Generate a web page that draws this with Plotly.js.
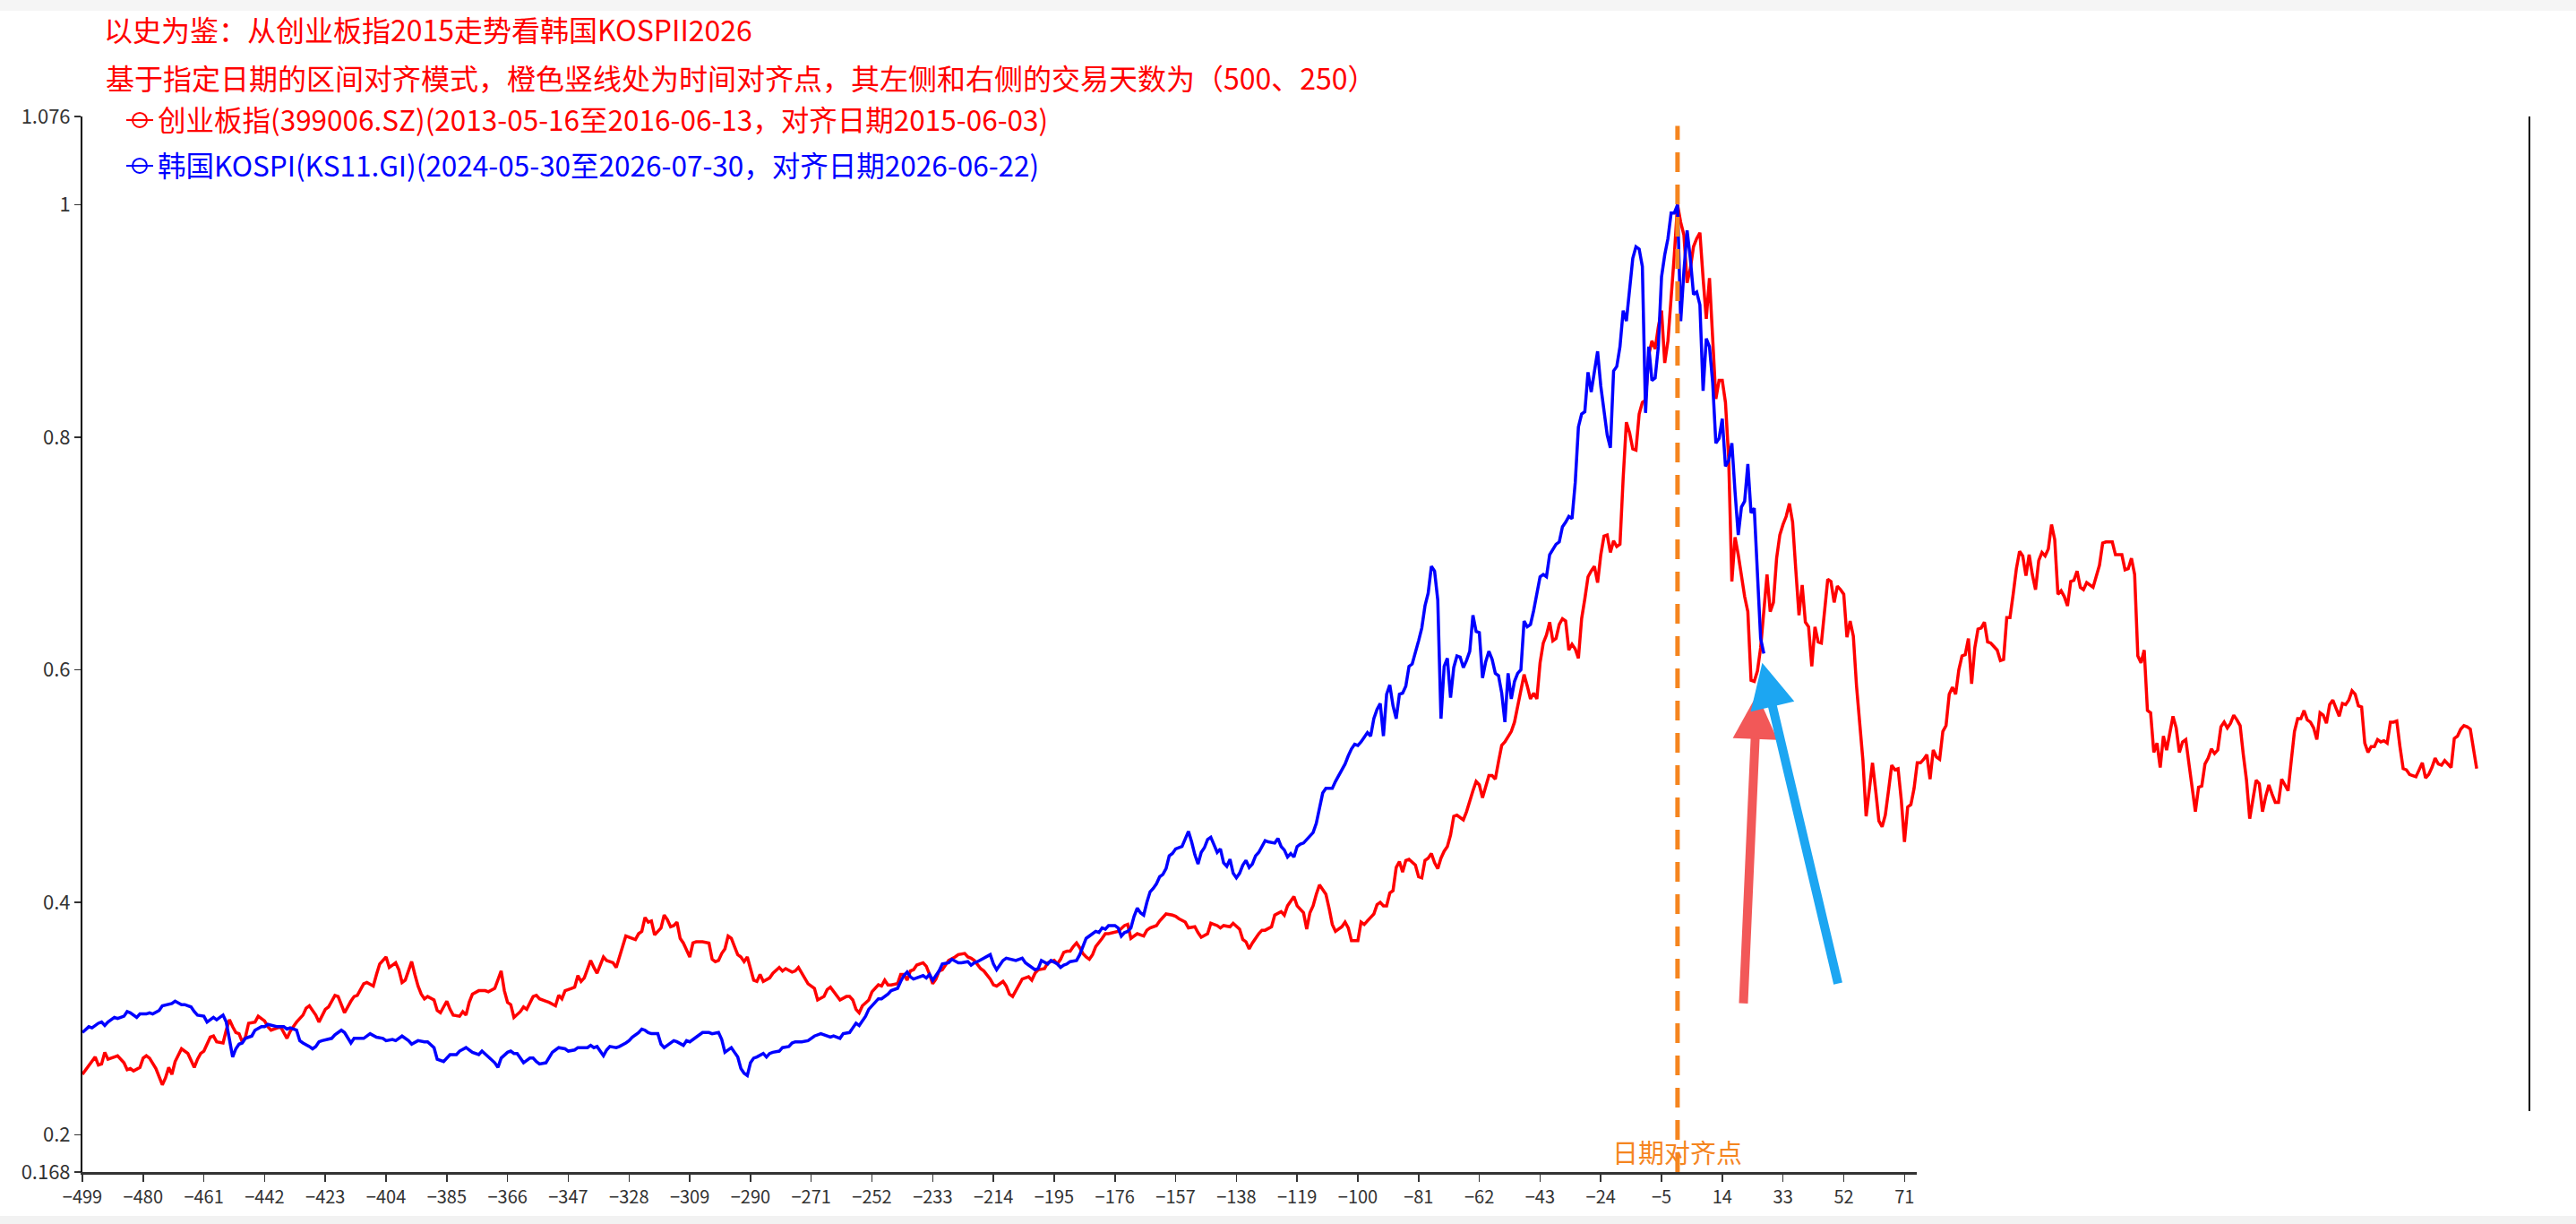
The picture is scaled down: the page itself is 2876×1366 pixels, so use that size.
<!DOCTYPE html>
<html>
<head>
<meta charset="utf-8">
<script src="https://cdn.plot.ly/plotly-3.0.1.min.js"></script>
<style>
html,body{margin:0;padding:0;background:#fff;}
#chart{width:2876px;height:1366px;}
</style>
</head>
<body>
<div id="chart"></div>
<script>
// ---------- data (day offset relative to the alignment date, normalised index) ----------
const titleText = '以史为鉴：从创业板指2015走势看韩国KOSPII2026';
const subtitleText = '基于指定日期的区间对齐模式，橙色竖线处为时间对齐点，其左侧和右侧的交易天数为（500、250）';
const redName = '创业板指(399006.SZ)(2013-05-16至2016-06-13，对齐日期2015-06-03)';
const blueName = '韩国KOSPI(KS11.GI)(2024-05-30至2026-07-30，对齐日期2026-06-22)';
const alignLabel = '日期对齐点';

const redDays = [
-499,-497,-495,-494,-493,-492,-491,-489,-488,-486,
-485,-484,-483,-481,-480,-479,-478,-476,-475,-474,
-473,-472,-471,-470,-468,-466,-464,-463,-462,-461,
-459,-458,-457,-455,-454,-453,-452,-451,-450,-449,
-448,-447,-445,-444,-442,-441,-440,-438,-437,-435,
-434,-433,-432,-430,-429,-428,-427,-426,-425,-424,
-423,-422,-420,-419,-418,-417,-415,-414,-413,-411,
-410,-408,-407,-406,-404,-403,-402,-401,-400,-399,
-398,-397,-396,-395,-394,-393,-392,-391,-389,-388,
-387,-386,-385,-384,-383,-381,-380,-379,-378,-377,
-375,-373,-372,-370,-369,-368,-367,-366,-365,-364,
-362,-361,-360,-359,-358,-357,-356,-354,-353,-351,
-350,-349,-348,-346,-345,-344,-343,-342,-340,-339,
-338,-337,-336,-335,-333,-332,-331,-330,-329,-327,
-326,-325,-324,-323,-322,-321,-320,-318,-317,-316,
-315,-314,-313,-312,-311,-309,-308,-307,-305,-303,
-302,-301,-300,-299,-298,-297,-296,-295,-294,-293,
-292,-291,-290,-289,-288,-287,-286,-284,-283,-281,
-280,-279,-277,-276,-275,-273,-272,-270,-269,-267,
-266,-265,-264,-262,-260,-259,-258,-257,-256,-255,
-253,-252,-250,-249,-248,-247,-246,-244,-243,-242,
-241,-240,-239,-238,-236,-235,-234,-233,-232,-231,
-230,-229,-228,-226,-225,-223,-222,-221,-220,-218,
-217,-215,-214,-213,-211,-210,-209,-208,-207,-206,
-205,-203,-202,-201,-200,-198,-197,-195,-194,-193,
-192,-191,-190,-189,-188,-187,-186,-185,-184,-183,
-182,-180,-179,-178,-176,-175,-173,-172,-171,-170,
-169,-167,-166,-165,-163,-162,-160,-158,-157,-156,
-154,-153,-151,-150,-149,-147,-146,-144,-143,-142,
-140,-139,-137,-136,-135,-134,-133,-131,-130,-129,
-127,-126,-124,-123,-122,-120,-119,-117,-116,-115,
-114,-113,-112,-111,-110,-109,-108,-107,-105,-104,
-103,-102,-101,-100,-99,-98,-96,-95,-94,-93,
-92,-91,-90,-89,-88,-87,-86,-85,-84,-82,
-81,-80,-79,-78,-77,-76,-75,-74,-73,-72,
-71,-70,-69,-67,-66,-65,-64,-63,-62,-61,
-60,-59,-58,-57,-56,-55,-54,-53,-52,-51,
-50,-49,-48,-47,-46,-45,-44,-43,-42,-41,
-40,-39,-38,-37,-36,-35,-34,-33,-32,-31,
-30,-29,-28,-27,-26,-25,-24,-23,-22,-21,
-20,-19,-18,-17,-16,-15,-14,-13,-12,-11,
-10,-9,-8,-7,-6,-5,-4,-3,-2,-1,
0,1,2,3,4,5,6,7,8,9,
10,11,12,13,14,15,16,17,18,19,
20,21,22,23,24,25,26,27,28,29,
30,31,32,33,34,35,36,37,38,39,
40,41,42,43,44,45,46,47,48,49,
50,51,52,53,54,55,56,58,59,60,
61,62,63,64,65,66,67,68,69,70,
71,72,73,74,75,76,77,78,79,80,
81,82,83,84,85,86,87,88,89,90,
91,92,93,94,95,96,97,98,100,101,
102,103,104,105,106,107,108,109,110,111,
112,113,114,115,116,117,118,119,120,121,
122,123,124,125,126,127,128,130,131,132,
133,134,136,137,139,140,141,142,143,144,
145,146,147,148,149,150,151,152,153,154,
155,156,157,158,159,160,161,162,163,164,
165,166,167,168,169,170,171,172,173,174,
175,176,177,178,179,180,181,182,183,184,
185,186,187,188,189,190,191,192,193,194,
195,196,197,198,199,200,201,202,203,204,
205,206,207,208,209,210,211,212,213,214,
215,216,217,218,219,220,221,222,223,224,
225,226,227,228,229,230,231,232,233,234,
235,236,237,238,239,240,241,242,243,244,
245,246,247,248,250
];
const redValues = [
.252,.260,.267,.260,.261,.271,.265,.267,.268,.262,
.256,.257,.255,.258,.266,.268,.266,.257,.249,.243,
.249,.258,.252,.263,.274,.270,.258,.265,.270,.272,
.284,.285,.280,.279,.290,.299,.293,.288,.287,.280,
.284,.296,.297,.302,.298,.293,.290,.292,.293,.283,
.289,.293,.297,.303,.309,.311,.307,.303,.297,.303,
.308,.310,.320,.319,.311,.305,.315,.319,.320,.330,
.331,.328,.338,.347,.353,.344,.346,.348,.342,.331,
.333,.342,.349,.338,.328,.321,.317,.319,.316,.307,
.305,.310,.315,.308,.303,.302,.306,.303,.314,.321,
.324,.324,.323,.326,.333,.341,.324,.314,.312,.301,
.306,.310,.308,.314,.319,.320,.317,.315,.314,.311,
.320,.317,.324,.326,.327,.337,.332,.335,.350,.344,
.339,.346,.353,.350,.348,.344,.352,.362,.371,.369,
.368,.373,.375,.387,.383,.384,.372,.378,.389,.385,
.379,.380,.383,.369,.365,.353,.365,.366,.366,.365,
.351,.349,.350,.356,.360,.371,.369,.362,.355,.353,
.349,.353,.344,.333,.332,.338,.332,.335,.339,.344,
.341,.343,.340,.341,.344,.335,.330,.326,.316,.319,
.325,.327,.323,.316,.319,.319,.316,.308,.305,.311,
.316,.323,.329,.328,.333,.329,.329,.330,.338,.338,
.333,.341,.342,.346,.348,.345,.338,.330,.334,.341,
.342,.346,.350,.353,.355,.356,.353,.352,.350,.343,
.341,.334,.329,.328,.332,.328,.321,.319,.324,.330,
.334,.336,.333,.339,.342,.343,.348,.350,.347,.351,
.357,.358,.358,.362,.365,.361,.356,.353,.351,.355,
.362,.369,.373,.373,.374,.375,.380,.381,.369,.371,
.373,.371,.376,.378,.380,.384,.390,.389,.388,.386,
.383,.378,.379,.374,.370,.373,.382,.380,.378,.380,
.379,.382,.377,.368,.366,.360,.365,.373,.376,.376,
.379,.389,.392,.389,.397,.405,.397,.391,.377,.391,
.397,.407,.415,.411,.407,.395,.381,.375,.379,.383,
.378,.367,.367,.367,.383,.381,.387,.390,.398,.400,
.397,.397,.408,.410,.430,.435,.426,.436,.437,.432,
.422,.421,.436,.438,.442,.434,.429,.438,.444,.448,
.458,.474,.475,.471,.478,.488,.496,.504,.501,.490,
.499,.509,.509,.506,.521,.535,.538,.543,.547,.555,
.569,.583,.596,.586,.575,.580,.575,.606,.623,.630,
.641,.625,.627,.639,.644,.642,.617,.622,.618,.610,
.644,.661,.680,.685,.689,.675,.699,.715,.716,.701,
.711,.706,.708,.765,.813,.804,.790,.789,.820,.830,
.832,.871,.883,.876,.895,.909,.864,.883,.919,.957,
1.000,.985,.974,.933,.945,.964,.971,.976,.937,.902,
.937,.885,.833,.849,.849,.830,.782,.676,.714,.699,
.681,.663,.650,.591,.590,.599,.619,.650,.682,.650,
.658,.696,.716,.725,.732,.743,.727,.686,.647,.673,
.641,.637,.603,.637,.624,.623,.650,.678,.676,.658,
.672,.669,.665,.628,.642,.629,.586,.522,.474,.496,
.520,.496,.470,.465,.475,.496,.518,.514,.515,.488,
.452,.482,.484,.498,.520,.520,.523,.527,.506,.531,
.525,.523,.547,.552,.579,.585,.579,.600,.612,.613,
.627,.588,.619,.635,.636,.641,.624,.623,.617,.608,
.609,.645,.645,.665,.687,.702,.698,.681,.699,.682,
.669,.694,.701,.698,.704,.725,.712,.665,.668,.663,
.655,.676,.677,.685,.671,.669,.675,.671,.681,.690,
.709,.710,.710,.699,.699,.686,.687,.696,.682,.612,
.606,.617,.565,.563,.529,.537,.516,.543,.531,.545,
.560,.550,.529,.538,.540,.519,.499,.478,.499,.500,
.519,.524,.532,.528,.531,.551,.555,.550,.554,.561,
.557,.552,.527,.505,.472,.488,.505,.502,.478,.491,
.501,.493,.486,.486,.506,.501,.496,.522,.547,.558,
.558,.565,.557,.555,.550,.540,.563,.561,.554,.570,
.574,.567,.560,.571,.570,.574,.582,.579,.569,.568,
.537,.529,.534,.534,.540,.538,.539,.537,.555,.555,
.556,.534,.515,.514,.510,.509,.508,.514,.520,.507,
.510,.516,.524,.519,.518,.522,.519,.516,.541,.543,
.549,.552,.551,.549,.515
];

const blueDays = [
-499,-497,-496,-494,-493,-492,-491,-489,-488,-486,
-485,-484,-482,-481,-479,-478,-477,-475,-474,-472,
-471,-470,-468,-467,-465,-464,-463,-461,-460,-458,
-457,-456,-455,-454,-453,-452,-451,-450,-449,-448,
-446,-445,-443,-442,-441,-439,-438,-436,-435,-434,
-432,-431,-430,-428,-427,-426,-425,-424,-422,-421,
-420,-418,-417,-416,-415,-414,-412,-411,-409,-407,
-405,-404,-402,-401,-399,-397,-396,-394,-392,-391,
-389,-388,-386,-385,-384,-382,-381,-379,-378,-377,
-375,-374,-372,-370,-369,-368,-366,-365,-364,-363,
-362,-361,-359,-358,-357,-356,-354,-353,-352,-351,
-350,-348,-347,-345,-344,-343,-341,-340,-339,-338,
-336,-335,-334,-332,-331,-329,-328,-327,-325,-324,
-323,-322,-321,-319,-318,-317,-315,-314,-313,-311,
-310,-309,-307,-306,-305,-303,-302,-300,-299,-298,
-296,-295,-294,-293,-292,-291,-290,-289,-288,-286,
-285,-284,-283,-281,-280,-278,-277,-276,-274,-272,
-271,-270,-268,-267,-265,-264,-262,-261,-259,-258,
-257,-256,-254,-253,-251,-250,-249,-247,-246,-244,
-243,-242,-241,-240,-239,-237,-236,-235,-234,-233,
-232,-231,-230,-228,-227,-225,-224,-222,-221,-220,
-219,-217,-216,-215,-214,-213,-212,-211,-210,-208,
-207,-206,-205,-204,-202,-201,-200,-199,-197,-196,
-194,-193,-192,-191,-190,-188,-187,-186,-185,-183,
-182,-181,-180,-179,-178,-176,-175,-174,-173,-172,
-171,-170,-169,-168,-167,-166,-165,-164,-163,-162,
-161,-160,-159,-158,-157,-155,-154,-153,-152,-151,
-150,-149,-148,-147,-146,-145,-144,-143,-142,-141,
-140,-139,-138,-137,-136,-135,-134,-133,-132,-131,
-129,-128,-126,-125,-124,-123,-122,-121,-120,-119,
-118,-117,-115,-114,-113,-112,-111,-110,-108,-107,
-106,-105,-104,-103,-102,-101,-100,-99,-98,-97,
-96,-95,-94,-93,-92,-91,-90,-89,-88,-87,
-86,-85,-84,-83,-81,-80,-79,-78,-77,-76,
-75,-74,-73,-72,-71,-70,-69,-68,-67,-66,
-65,-64,-63,-62,-61,-60,-59,-58,-57,-56,
-55,-54,-53,-52,-51,-50,-49,-48,-47,-46,
-45,-44,-43,-42,-41,-40,-39,-38,-37,-36,
-35,-34,-33,-32,-31,-30,-29,-28,-27,-26,
-25,-24,-23,-22,-21,-20,-19,-18,-17,-16,
-14,-13,-12,-11,-10,-9,-8,-7,-6,-5,
-4,-3,-2,-1,0,1,2,3,4,5,
6,7,8,9,10,11,12,13,14,15,
16,17,18,19,20,21,22,23,24,25,
26,27
];
const blueValues = [
.288,.293,.292,.296,.297,.294,.297,.301,.300,.302,
.306,.305,.301,.304,.304,.305,.304,.307,.311,.312,
.313,.315,.312,.312,.310,.306,.303,.302,.297,.301,
.299,.301,.303,.297,.283,.267,.274,.278,.279,.283,
.285,.290,.293,.293,.295,.294,.293,.293,.291,.292,
.290,.281,.279,.276,.274,.276,.280,.281,.282,.283,
.286,.290,.288,.283,.279,.283,.283,.283,.287,.284,
.283,.281,.282,.281,.285,.281,.278,.281,.280,.280,
.275,.265,.263,.266,.269,.269,.272,.275,.273,.271,
.269,.272,.267,.262,.258,.266,.271,.272,.270,.270,
.266,.262,.266,.266,.263,.261,.262,.266,.271,.273,
.275,.274,.272,.273,.275,.275,.275,.277,.275,.276,
.268,.273,.276,.275,.276,.279,.281,.284,.288,.291,
.290,.288,.287,.287,.278,.275,.279,.281,.280,.277,
.281,.280,.284,.286,.288,.288,.287,.288,.282,.271,
.275,.271,.267,.257,.253,.251,.262,.266,.267,.270,
.267,.270,.271,.272,.275,.276,.279,.280,.280,.281,
.283,.285,.287,.286,.284,.285,.283,.287,.288,.292,
.296,.294,.302,.308,.314,.317,.317,.321,.324,.326,
.332,.337,.340,.336,.334,.336,.337,.335,.338,.333,
.337,.341,.347,.348,.351,.348,.348,.349,.346,.348,
.349,.352,.354,.355,.347,.342,.346,.350,.352,.351,
.350,.351,.352,.348,.344,.342,.343,.350,.347,.350,
.347,.344,.346,.347,.349,.350,.355,.362,.369,.373,
.375,.374,.378,.377,.380,.380,.378,.371,.374,.375,
.378,.388,.395,.391,.389,.400,.409,.412,.416,.422,
.424,.429,.440,.442,.446,.448,.454,.461,.452,.441,
.433,.443,.447,.454,.456,.450,.443,.446,.434,.431,
.437,.425,.421,.425,.432,.436,.430,.433,.440,.443,
.453,.452,.451,.455,.448,.445,.439,.442,.439,.448,
.450,.451,.457,.460,.468,.481,.494,.498,.498,.504,
.509,.515,.519,.526,.532,.536,.535,.538,.542,.546,
.543,.558,.566,.571,.543,.579,.587,.569,.558,.579,
.580,.586,.603,.605,.625,.636,.655,.666,.689,.685,
.660,.558,.603,.610,.576,.602,.612,.611,.602,.608,
.616,.647,.633,.632,.593,.607,.616,.609,.597,.595,
.580,.555,.597,.575,.590,.597,.600,.642,.637,.639,
.651,.665,.680,.682,.680,.699,.703,.708,.710,.723,
.727,.732,.730,.761,.809,.820,.822,.856,.839,.856,
.874,.844,.821,.802,.791,.857,.861,.878,.909,.900,
.954,.964,.962,.947,.821,.878,.849,.851,.878,.938,
.957,.971,.993,.993,1.000,.900,.943,.978,.954,.923,
.925,.914,.840,.885,.878,.847,.795,.799,.816,.775,
.780,.795,.753,.716,.740,.745,.777,.735,.739,.681,
.627,.614
];

const xTickVals = [-499,-480,-461,-442,-423,-404,-385,-366,-347,-328,-309,-290,-271,-252,-233,-214,-195,-176,-157,-138,-119,-100,-81,-62,-43,-24,-5,14,33,52,71];
const yTickVals = [0.168,0.2,0.4,0.6,0.8,1,1.076];
const yTickText = ['0.168','0.2','0.4','0.6','0.8','1','1.076'];

// ---------- chart ----------
const FONT = '"Noto Sans CJK SC","Noto Sans",sans-serif';
const RED = '#ff0000';
const BLUE = '#0000ff';
const ORANGE = '#f5851f';

const traces = [
  {x: redDays, y: redValues, type: 'scatter', mode: 'lines', line: {color: RED, width: 3.5}, showlegend: false, hoverinfo: 'skip'},
  {x: blueDays, y: blueValues, type: 'scatter', mode: 'lines', line: {color: BLUE, width: 3.5}, showlegend: false, hoverinfo: 'skip'},
  {x: [null], y: [null], type: 'scatter', mode: 'lines+markers', name: '<span style="color:' + RED + '">' + redName + '</span>',
   line: {color: RED, width: 2}, marker: {symbol: 'circle-open', size: 16, color: RED, line: {width: 2}}, legend: 'legend'},
  {x: [null], y: [null], type: 'scatter', mode: 'lines+markers', name: '<span style="color:' + BLUE + '">' + blueName + '</span>',
   line: {color: BLUE, width: 2}, marker: {symbol: 'circle-open', size: 16, color: BLUE, line: {width: 2}}, legend: 'legend2'}
];

const W = 2876, H = 1366, ML = 92, MR = 52, MT = 130, MB = 58;
const PW = W - ML - MR, PH = H - MT - MB;
function px2paperX(X) { return (X - ML) / PW; }
function px2paperY(Y) { return (H - MB - Y) / PH; }

const layout = {
  width: W, height: H,
  margin: {l: ML, r: MR, t: MT, b: MB, pad: 0},
  paper_bgcolor: '#ffffff', plot_bgcolor: '#ffffff',
  font: {family: FONT, size: 20, color: '#333'},
  hovermode: false,
  title: {
    text: titleText, font: {family: FONT, size: 32, color: RED},
    xref: 'container', x: 116 / W, xanchor: 'left',
    yref: 'container', y: 1 - 35 / H, yanchor: 'middle'
  },
  xaxis: {
    range: [-499, 266.5], tickmode: 'array', tickvals: xTickVals,
    showgrid: false, zeroline: false, showline: true, linecolor: '#333', linewidth: 2.5,
    ticks: 'outside', ticklen: 8, tickwidth: 1.5, tickcolor: '#333',
    tickfont: {family: FONT, size: 20, color: '#333'}, fixedrange: true
  },
  yaxis: {
    range: [0.168, 1.076], tickmode: 'array', tickvals: yTickVals, ticktext: yTickText,
    showgrid: false, zeroline: false, showline: true, linecolor: '#000', linewidth: 2,
    ticks: 'outside', ticklen: 7, tickwidth: 1.5, tickcolor: '#333',
    tickfont: {family: FONT, size: 22, color: '#333'}, fixedrange: true
  },
  legend: {
    x: px2paperX(136), xanchor: 'left', y: px2paperY(134), yanchor: 'middle',
    bgcolor: 'rgba(0,0,0,0)', borderwidth: 0, itemwidth: 30,
    font: {family: FONT, size: 31.5, color: RED}
  },
  legend2: {
    x: px2paperX(136), xanchor: 'left', y: px2paperY(185), yanchor: 'middle',
    bgcolor: 'rgba(0,0,0,0)', borderwidth: 0, itemwidth: 30,
    font: {family: FONT, size: 31.5, color: BLUE}
  },
  shapes: [
    // alignment line
    {type: 'line', xref: 'x', yref: 'y', x0: 0, x1: 0, y0: 0.168, y1: 1.068,
     line: {color: ORANGE, width: 5, dash: '22px,14px'}},
    // right border line
    {type: 'line', xref: 'paper', yref: 'paper', x0: 1, x1: 1, y0: px2paperY(1247), y1: 1,
     line: {color: '#000', width: 2}},
    // watermark area (blank)
    {type: 'rect', xref: 'paper', yref: 'paper', layer: 'above',
     x0: px2paperX(2140), x1: px2paperX(W), y0: px2paperY(1357), y1: px2paperY(1240),
     fillcolor: '#ffffff', line: {width: 0}},
    // bottom grey band
    {type: 'rect', xref: 'paper', yref: 'paper', layer: 'above',
     x0: px2paperX(0), x1: px2paperX(W), y0: px2paperY(H), y1: px2paperY(1357),
     fillcolor: '#f2f2f2', line: {width: 0}},
    // top grey band
    {type: 'rect', xref: 'paper', yref: 'paper', layer: 'above',
     x0: px2paperX(0), x1: px2paperX(W), y0: px2paperY(12), y1: px2paperY(0),
     fillcolor: '#f5f5f5', line: {width: 0}}
  ],
  annotations: [
    {text: subtitleText, xref: 'paper', yref: 'paper', x: px2paperX(116), y: px2paperY(86),
     xanchor: 'left', yanchor: 'middle', showarrow: false, font: {family: FONT, size: 32, color: RED}},
    {text: alignLabel, xref: 'x', yref: 'paper', x: 0, y: 0, xanchor: 'center', yanchor: 'bottom',
     showarrow: false, font: {family: FONT, size: 29, color: ORANGE}},
    {text: '', xref: 'x', yref: 'y', axref: 'x', ayref: 'y', x: 24.9, y: 0.579, ax: 20.6, ay: 0.312,
     showarrow: true, arrowhead: 2, arrowsize: 1, arrowwidth: 10, arrowcolor: '#f25858', standoff: 0},
    {text: '', xref: 'x', yref: 'y', axref: 'x', ayref: 'y', x: 26.5, y: 0.606, ax: 50.3, ay: 0.329,
     showarrow: true, arrowhead: 2, arrowsize: 1, arrowwidth: 10, arrowcolor: '#1ca6f2', standoff: 0}
  ]
};

Plotly.newPlot('chart', traces, layout, {displayModeBar: false, staticPlot: true});
</script>
</body>
</html>
